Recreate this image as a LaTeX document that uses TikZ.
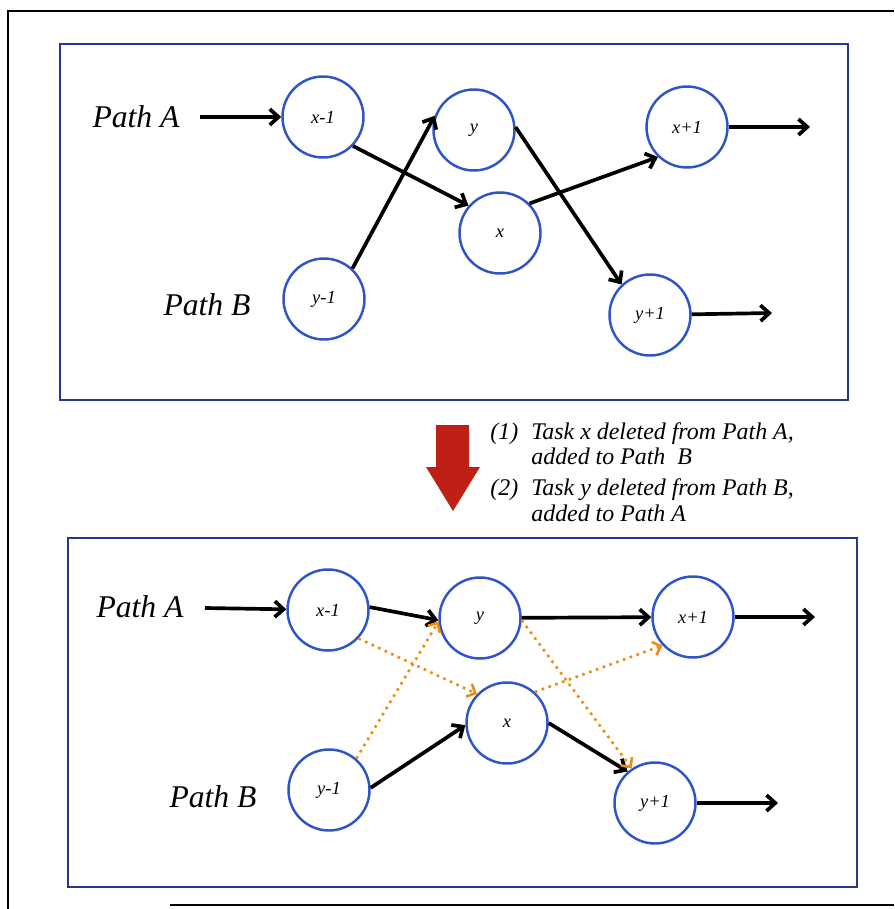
\documentclass[tikz,border=0pt]{standalone}
\usepackage{fontspec}
\setmainfont{Liberation Serif}
\usepackage{tikz}
\usetikzlibrary{arrows.meta}
\definecolor{nodeblue}{RGB}{45,85,200}
\definecolor{panelblue}{RGB}{40,55,140}
\definecolor{swaporange}{RGB}{240,140,20}
\definecolor{arrowred}{RGB}{190,32,22}
\tikzset{
		task/.style={draw=nodeblue, circle, line width=1.4pt, minimum size=1.62cm, inner sep=0pt, font=\fontsize{10.5}{12}\selectfont\itshape},
		pathlabel/.style={font=\fontsize{18}{21}\selectfont\itshape},
		note/.style={font=\fontsize{13.6}{14.6}\selectfont\itshape, align=left, inner sep=0pt},
		link/.style={-{Straight Barb[length=5pt,width=9pt]}, line width=2.1pt},
		swap link/.style={-{Straight Barb[length=4pt,width=8pt]}, color=swaporange, line width=1.5pt, dash pattern=on 1.5pt off 2.6pt},
		panel/.style={draw=panelblue, line width=0.9pt},
		frame/.style={draw=black, line width=0.9pt}
	}

\begin{document}
\begin{tikzpicture}[x=0.02cm, y=-0.02cm]
	\useasboundingbox (0,0) rectangle (894,909);
	% page frame and panels
	\draw[frame] (8,909) -- (8,11) -- (894,11);
	\draw[frame] (170,905) -- (894,905);
	\draw[panel] (60,44) rectangle (848,400);
	\draw[panel] (68,538) rectangle (857,887);

	% before
	\node[pathlabel] (pa1) at (136,117) {Path A};
	\node[pathlabel] (pb1) at (207,305) {Path B};
	\node[task] (xprev1) at (323,117) {x-1};
	\node[task] (ynode1) at (474,130) {y};
	\node[task] (xnode1) at (500,233) {x};
	\node[task] (xnext1) at (687,127) {x+1};
	\node[task] (yprev1) at (324,299) {y-1};
	\node[task] (ynext1) at (650,315) {y+1};
	\coordinate (ina1)  at (200,117);
	\coordinate (outa1) at (810,127);
	\coordinate (outb1) at (772,313);

	\path[link] (ina1) edge (xprev1);
	\path[link] (xprev1.-44) edge (xnode1.139);
	\path[link] (yprev1.47) edge (ynode1.160);
	\path[link] (ynode1.4) edge (ynext1.133);
	\path[link] (xnode1.45) edge (xnext1.226);
	\path[link] (xnext1) edge (outa1);
	\path[link] (ynext1) edge (outb1);

	% the move
	\fill[arrowred] (436,425) -- (469,425) -- (469,467) -- (480,467) -- (453,511) -- (426,467) -- (436,467) -- cycle;
	\node[note, anchor=north west] (moves) at (490,421) {%
		\begin{tabular}{@{}l@{\hspace{0.55em}}l@{}}
			(1) & Task x deleted from Path A,\\
			    & added to Path\ \ B\\[3pt]
			(2) & Task y deleted from Path B,\\
			    & added to Path A
		\end{tabular}};

	% after
	\node[pathlabel] (pa2) at (140,607) {Path A};
	\node[pathlabel] (pb2) at (213,797) {Path B};
	\node[task] (xprev2) at (328,610) {x-1};
	\node[task] (ynode2) at (480,618) {y};
	\node[task] (xnode2) at (507,723) {x};
	\node[task] (xnext2) at (693,617) {x+1};
	\node[task] (yprev2) at (329,790) {y-1};
	\node[task] (ynext2) at (655,803) {y+1};
	\coordinate (ina2)  at (205,608);
	\coordinate (outa2) at (815,617);
	\coordinate (outb2) at (778,803);

	\path[link] (ina2) edge (xprev2);
	\path[link] (xprev2.4) edge (ynode2.183);
	\path[link] (ynode2) edge (xnext2);
	\path[link] (yprev2.3) edge (xnode2.183);
	\path[link] (xnode2.0) edge (ynext2.131);
	\path[link] (xnext2) edge (outa2);
	\path[link] (ynext2) edge (outb2);

	\path[swap link] (xprev2.-43) edge (xnode2.136);
	\path[swap link] (yprev2.49) edge (ynode2.185);
	\path[swap link] (ynode2.-3) edge (ynext2.124);
	\path[swap link] (xnode2.48) edge (xnext2.223);
\end{tikzpicture}
\end{document}
